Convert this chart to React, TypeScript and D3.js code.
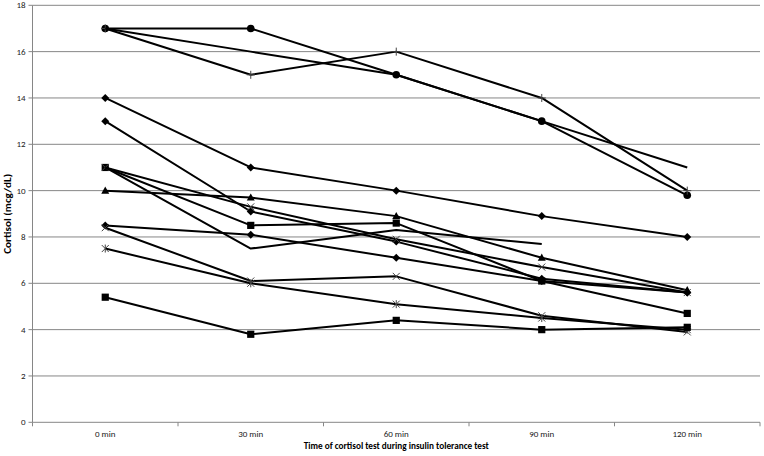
import React from "react";
import * as d3 from "d3";

const categories = ["0 min", "30 min", "60 min", "90 min", "120 min"];
const yTicks = [0, 2, 4, 6, 8, 10, 12, 14, 16, 18];

const seriesA = [17, 17, 15, 13, 9.8];
const seriesB = [17, 15, 16, 14, 10];
const seriesC = [17, 16, 15, 13, 11];
const seriesD = [14, 11, 10, 8.9, 8];
const seriesE = [13, 9.1, 7.8, 6.2, 5.6];
const seriesF = [11, 8.5, 8.6, 6.1, 4.7];
const seriesG = [10, 9.7, 8.9, 7.1, 5.7];
const seriesH = [11, 9.3, 7.9, 6.7, 5.6];
const seriesI = [11, 7.5, 8.3, 7.7, null];
const seriesJ = [8.5, 8.1, 7.1, 6.1, 5.6];
const seriesK = [8.4, 6.1, 6.3, 4.6, 3.9];
const seriesL = [7.5, 6.0, 5.1, 4.5, 4.0];
const seriesM = [5.4, 3.8, 4.4, 4.0, 4.1];

const seriesList: { values: (number | null)[]; marker: string }[] = [
  { values: seriesA, marker: "circle" },
  { values: seriesB, marker: "plus" },
  { values: seriesC, marker: "none" },
  { values: seriesD, marker: "diamond" },
  { values: seriesE, marker: "diamond" },
  { values: seriesF, marker: "square" },
  { values: seriesG, marker: "triangle" },
  { values: seriesH, marker: "x" },
  { values: seriesI, marker: "none" },
  { values: seriesJ, marker: "diamond" },
  { values: seriesK, marker: "x" },
  { values: seriesL, marker: "star" },
  { values: seriesM, marker: "square" },
];

const W = 764;
const H = 456;
const left = 32.5;
const right = 760;
const top = 5.3;
const bottom = 422.3;

const FONT = "Carlito, 'Liberation Sans', Arial, sans-serif";

function Marker({ type, x, y }: { type: string; x: number; y: number }) {
  switch (type) {
    case "circle":
      return <circle cx={x} cy={y} r={3.8} fill="#000" />;
    case "square":
      return <rect x={x - 3.6} y={y - 3.6} width={7.2} height={7.2} fill="#000" />;
    case "diamond":
      return <path d={`M${x},${y - 4}L${x + 4},${y}L${x},${y + 4}L${x - 4},${y}Z`} fill="#000" />;
    case "triangle":
      return <path d={`M${x},${y - 4.2}L${x + 4},${y + 3}L${x - 4},${y + 3}Z`} fill="#000" />;
    case "plus":
      return (
        <path d={`M${x - 4},${y}H${x + 4}M${x},${y - 4}V${y + 4}`} stroke="#444" strokeWidth={1} fill="none" />
      );
    case "x":
      return (
        <path
          d={`M${x - 3.5},${y - 3.5}L${x + 3.5},${y + 3.5}M${x + 3.5},${y - 3.5}L${x - 3.5},${y + 3.5}`}
          stroke="#444"
          strokeWidth={1}
          fill="none"
        />
      );
    case "star":
      return (
        <path
          d={`M${x - 3.5},${y - 3.5}L${x + 3.5},${y + 3.5}M${x + 3.5},${y - 3.5}L${x - 3.5},${y + 3.5}M${x},${y - 4}V${y + 4}`}
          stroke="#444"
          strokeWidth={1}
          fill="none"
        />
      );
    default:
      return null;
  }
}

export default function App() {
  const x = d3.scaleBand<string>().domain(categories).range([left, right]);
  const y = d3.scaleLinear().domain([0, 18]).range([bottom, top]);
  const cx = (c: string) => (x(c) as number) + x.bandwidth() / 2;

  const line = d3
    .line<number | null>()
    .defined((d) => d !== null)
    .x((_, i) => cx(categories[i]))
    .y((d) => y(d as number));

  const bandEdges = [...categories.map((c) => x(c) as number), right];

  return (
    <svg width={W} height={H} style={{ position: "absolute", left: 0, top: 0 }}>
      <rect width={W} height={H} fill="#fff" />
      {yTicks.map((t) =>
        t === 0 ? null : (
          <line key={t} x1={left} x2={right} y1={y(t)} y2={y(t)} stroke="#868686" strokeWidth={1} />
        )
      )}
      {/* axes */}
      <line x1={left} x2={left} y1={top} y2={bottom} stroke="#868686" strokeWidth={1} />
      <line x1={left} x2={right} y1={bottom} y2={bottom} stroke="#868686" strokeWidth={1} />
      {yTicks.map((t) => (
        <g key={t}>
          <line x1={left - 4} x2={left} y1={y(t)} y2={y(t)} stroke="#868686" strokeWidth={1} />
          <text x={left - 7} y={y(t)} dy="0.34em" textAnchor="end" fontSize={9} fontFamily={FONT} fill="#222">
            {t}
          </text>
        </g>
      ))}
      {bandEdges.map((e, i) => (
        <line key={i} x1={e} x2={e} y1={bottom} y2={bottom + 4} stroke="#868686" strokeWidth={1} />
      ))}
      {categories.map((c) => (
        <text key={c} x={cx(c)} y={437} textAnchor="middle" fontSize={9} fontFamily={FONT} fill="#222">
          {c}
        </text>
      ))}
      <text
        x={(left + right) / 2}
        y={449}
        textAnchor="middle"
        fontSize={9}
        fontWeight="bold"
        fontFamily={FONT}
        fill="#000"
        textLength={185}
        lengthAdjust="spacingAndGlyphs"
      >
        Time of cortisol test during insulin tolerance test
      </text>
      <text
        transform={`translate(11,${(top + bottom) / 2}) rotate(-90)`}
        textAnchor="middle"
        fontSize={9}
        fontWeight="bold"
        fontFamily={FONT}
        fill="#000"
        textLength={80}
        lengthAdjust="spacingAndGlyphs"
      >
        Cortisol (mcg/dL)
      </text>
      {seriesList.map((s, si) => (
        <g key={si}>
          <path d={line(s.values) || ""} fill="none" stroke="#000" strokeWidth={2} strokeLinejoin="round" />
          {s.values.map((v, i) =>
            v === null ? null : <Marker key={i} type={s.marker} x={cx(categories[i])} y={y(v)} />
          )}
        </g>
      ))}
    </svg>
  );
}
